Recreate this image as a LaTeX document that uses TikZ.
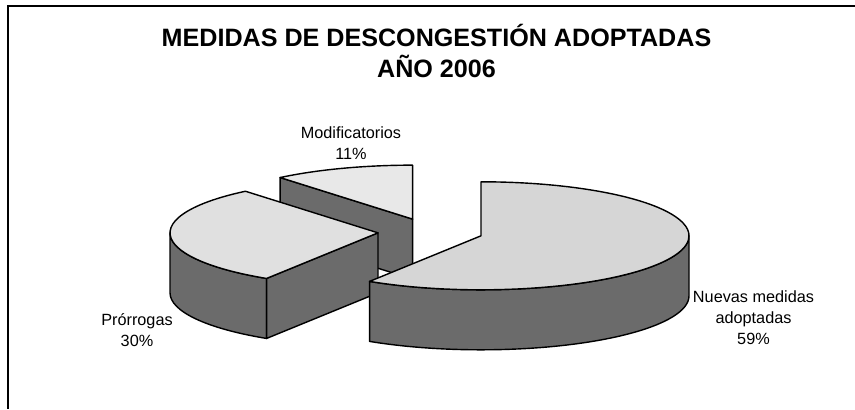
\documentclass[tikz,border=0pt]{standalone}
\usepackage{fontspec}
\setmainfont{Liberation Sans}
\usetikzlibrary{calc}
\definecolor{topNuevas}{gray}{0.84}
\definecolor{topModif}{gray}{0.91}
\definecolor{topProrr}{gray}{0.88}
\definecolor{lado}{gray}{0.42}
\tikzset{
    titulo/.style={font=\bfseries\fontsize{14.3}{18.2}\selectfont, align=center, anchor=base, inner sep=0pt},
    etiqueta/.style={font=\fontsize{9.25}{12.2}\selectfont, align=center, anchor=base, inner sep=0pt},
    tajada/.style={draw=black, line width=0.8pt, line join=round}
}
\begin{document}
\begin{tikzpicture}[x=0.02cm,y=0.02cm]
    \pgfmathsetmacro{\rx}{208}
    \pgfmathsetmacro{\ry}{54}
    \pgfmathsetmacro{\h}{60}
    \pgfmathsetmacro{\d}{52.6}
    \pgfmathsetmacro{\ds}{\d*\ry/\rx}
    \useasboundingbox (0,0) rectangle (855,409);
    \draw[line width=1.1pt] (855,403) -- (8,403) -- (8,0);
    \node[titulo] (titulo) at (436.5,331) {MEDIDAS DE DESCONGESTIÓN ADOPTADAS\\AÑO 2006};
    \coordinate (centro) at (430.5,177);
    \coordinate (modif) at ($(centro)+({\d*cos(109.8)},{\ds*sin(109.8)})$);
    \coordinate (prorrogas) at ($(centro)+({\d*cos(183.6)},{\ds*sin(183.6)})$);
    \coordinate (nuevas) at ($(centro)+({\d*cos(-16.2)},{\ds*sin(-16.2)})$);
    \draw[tajada,fill=lado] (modif) -- ++({\rx*cos(129.6)},{\ry*sin(129.6)}) -- ++(0,-\h) -- ($(modif)+(0,-\h)$) -- cycle;
    \draw[tajada,fill=topModif] (modif) -- ++(0,\ry) arc[start angle=90, end angle=129.6, x radius=\rx, y radius=\ry] -- cycle;
    \draw[tajada,fill=lado] ($(prorrogas)+(-\rx,0)$) arc[start angle=180, end angle=237.6, x radius=\rx, y radius=\ry] -- ++(0,-\h) arc[start angle=237.6, end angle=180, x radius=\rx, y radius=\ry] -- cycle;
    \draw[tajada,fill=lado] (prorrogas) -- ++({\rx*cos(237.6)},{\ry*sin(237.6)}) -- ++(0,-\h) -- ($(prorrogas)+(0,-\h)$) -- cycle;
    \draw[tajada,fill=topProrr] (prorrogas) -- ++({\rx*cos(129.6)},{\ry*sin(129.6)}) arc[start angle=129.6, end angle=237.6, x radius=\rx, y radius=\ry] -- cycle;
    \draw[tajada,fill=lado] ($(nuevas)+({\rx*cos(-122.4)},{\ry*sin(-122.4)})$) arc[start angle=-122.4, end angle=0, x radius=\rx, y radius=\ry] -- ++(0,-\h) arc[start angle=0, end angle=-122.4, x radius=\rx, y radius=\ry] -- cycle;
    \draw[tajada,fill=topNuevas] (nuevas) -- ++({\rx*cos(-122.4)},{\ry*sin(-122.4)}) arc[start angle=-122.4, end angle=90, x radius=\rx, y radius=\ry] -- cycle;
    \node[etiqueta] (lblModif) at (351,249) {Modificatorios\\11\%};
    \node[etiqueta] (lblProrrogas) at (137,62) {Prórrogas\\30\%};
    \node[etiqueta] (lblNuevas) at (753.5,64) {Nuevas medidas\\adoptadas\\59\%};
\end{tikzpicture}
\end{document}
